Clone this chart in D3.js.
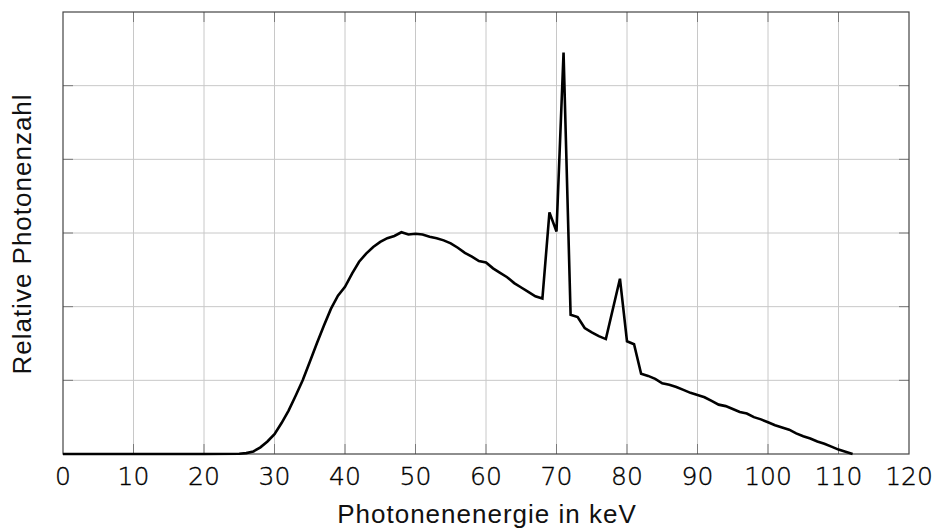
<!DOCTYPE html>
<html>
<head>
<meta charset="utf-8">
<script src="https://cdn.jsdelivr.net/npm/d3@7"></script>
<style>
  body { margin: 0; background: #fff; }
  .tick-label { font-family: "DejaVu Sans", sans-serif; font-size: 25px; font-weight: 200; fill: #000; stroke: #000; stroke-width: 0.35; }
  .axis-title { font-family: "Liberation Sans", Arial, sans-serif; font-size: 26px; letter-spacing: 1px; fill: #111; }
</style>
</head>
<body>
<svg id="chart" width="934" height="528"></svg>
<script>
// photon energy (keV) and relative count
const energies = [0, 10, 20, 25, 26, 27, 28, 29, 30, 31, 32, 33, 34, 35, 36, 37, 38, 39, 40,
  41, 42, 43, 44, 45, 46, 47, 48, 49, 50, 51, 52, 53, 54, 55, 56, 57, 58, 59, 60,
  61, 62, 63, 64, 65, 66, 67, 68, 69, 70, 71, 72, 73, 74, 75, 76, 77, 79, 80,
  81, 82, 83, 84, 85, 86, 87, 88, 89, 90, 91, 92, 93, 94, 95, 96, 97, 98, 99, 100,
  101, 102, 103, 104, 105, 106, 107, 108, 109, 110, 111, 112];
const counts = [0, 0, 0, 0.003, 0.012, 0.035, 0.09, 0.17, 0.27, 0.42, 0.59, 0.79, 1.0, 1.25, 1.5, 1.74, 1.97, 2.15, 2.27,
  2.45, 2.61, 2.72, 2.81, 2.88, 2.93, 2.96, 3.01, 2.98, 2.99, 2.98, 2.95, 2.93, 2.9, 2.86, 2.8, 2.73, 2.68, 2.62, 2.6,
  2.52, 2.46, 2.4, 2.32, 2.26, 2.2, 2.14, 2.11, 3.28, 3.02, 5.45, 1.89, 1.86, 1.71, 1.65, 1.6, 1.56, 2.38, 1.53,
  1.49, 1.09, 1.06, 1.02, 0.96, 0.94, 0.91, 0.87, 0.83, 0.8, 0.77, 0.72, 0.67, 0.65, 0.61, 0.57, 0.55, 0.5, 0.47, 0.43,
  0.39, 0.36, 0.33, 0.28, 0.24, 0.21, 0.17, 0.14, 0.1, 0.06, 0.03, 0];
const xTicks = [0, 10, 20, 30, 40, 50, 60, 70, 80, 90, 100, 110, 120];
const yTicks = [1, 2, 3, 4, 5];

const svg = d3.select("#chart");
const m = { left: 63, top: 12, right: 909, bottom: 454 };

const x = d3.scaleLinear().domain([0, 120]).range([m.left, m.right]);
const y = d3.scaleLinear().domain([0, 6]).range([m.bottom, m.top]);

// grid
svg.append("g").selectAll("line")
  .data(xTicks.slice(1, -1))
  .enter().append("line")
  .attr("x1", d => x(d)).attr("x2", d => x(d))
  .attr("y1", m.top).attr("y2", m.bottom)
  .attr("stroke", "#c8c8c8").attr("stroke-width", 1);

svg.append("g").selectAll("line")
  .data(yTicks)
  .enter().append("line")
  .attr("x1", m.left).attr("x2", m.right)
  .attr("y1", d => y(d)).attr("y2", d => y(d))
  .attr("stroke", "#c8c8c8").attr("stroke-width", 1);

// inward ticks on all four sides
const tickLen = 10;
const ticks = svg.append("g").attr("stroke", "#7a7a7a").attr("stroke-width", 1);
xTicks.slice(1, -1).forEach(d => {
  ticks.append("line").attr("x1", x(d)).attr("x2", x(d)).attr("y1", m.bottom).attr("y2", m.bottom - tickLen);
  ticks.append("line").attr("x1", x(d)).attr("x2", x(d)).attr("y1", m.top).attr("y2", m.top + tickLen);
});
yTicks.forEach(d => {
  ticks.append("line").attr("x1", m.left).attr("x2", m.left + tickLen).attr("y1", y(d)).attr("y2", y(d));
  ticks.append("line").attr("x1", m.right).attr("x2", m.right - tickLen).attr("y1", y(d)).attr("y2", y(d));
});

// frame
svg.append("rect")
  .attr("x", m.left).attr("y", m.top)
  .attr("width", m.right - m.left).attr("height", m.bottom - m.top)
  .attr("fill", "none").attr("stroke", "#444").attr("stroke-width", 1.2);

// spectrum
const line = d3.line()
  .x((d, i) => x(energies[i]))
  .y(d => y(d));

svg.append("path")
  .datum(counts)
  .attr("fill", "none")
  .attr("stroke", "#000")
  .attr("stroke-width", 2.6)
  .attr("stroke-linejoin", "miter")
  .attr("d", line);

// tick labels
svg.append("g").selectAll("text")
  .data(xTicks)
  .enter().append("text")
  .attr("class", "tick-label")
  .attr("x", d => x(d))
  .attr("y", 485)
  .attr("text-anchor", "middle")
  .text(d => d);

// axis titles
svg.append("text")
  .attr("class", "axis-title")
  .attr("x", (m.left + m.right) / 2 + 1)
  .attr("y", 523)
  .attr("text-anchor", "middle")
  .text("Photonenenergie in keV");

svg.append("text")
  .attr("class", "axis-title")
  .attr("text-anchor", "middle")
  .attr("transform", "translate(31,234)rotate(-90)")
  .text("Relative Photonenzahl");
</script>
</body>
</html>
